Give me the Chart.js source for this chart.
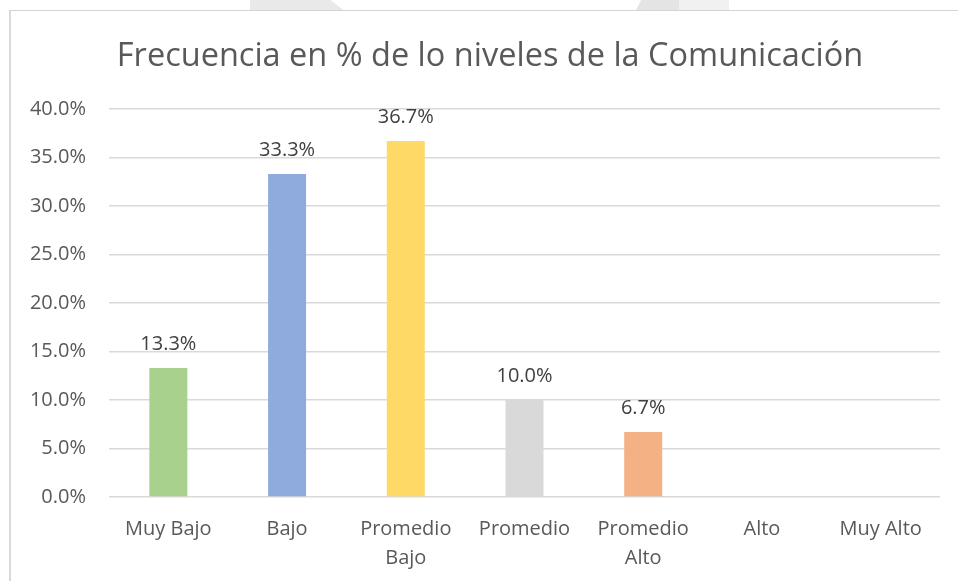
<!DOCTYPE html>
<html>
<head>
<meta charset="utf-8">
<script src="https://cdn.jsdelivr.net/npm/chart.js@4"></script>
<style>
  html, body { margin: 0; padding: 0; background: #fff; }
  body { width: 958px; height: 581px; position: relative; overflow: hidden; font-family: "Open Sans", sans-serif; }
  .wm { position: absolute; top: 0; height: 12px; }
  .wm1 { left: 250px; width: 96px; background: #e9e9e9; clip-path: polygon(0 0, 84% 0, 100% 100%, 0 100%); }
  .wm2 { left: 635px; width: 44px; background: #e4e4e4; clip-path: polygon(14% 0, 100% 0, 100% 100%, 0 100%); }
  .wm3 { left: 679px; width: 50px; background: #f1f1f1; }
  .frame { position: absolute; left: 9px; top: 10px; width: 1000px; height: 1000px;
           border-left: 2px solid #d9d9d9; border-top: 1px solid #d4d4d4; background: #fff; }
  canvas { position: absolute; left: 0; top: 0; }
</style>
</head>
<body>
<div class="wm wm1"></div>
<div class="wm wm2"></div>
<div class="wm wm3"></div>
<div class="frame"></div>
<canvas id="chart" width="958" height="581"></canvas>
<script>
const title = "Frecuencia en % de lo niveles de la Comunicación";
const categories = [["Muy Bajo"], ["Bajo"], ["Promedio", "Bajo"], ["Promedio"], ["Promedio", "Alto"], ["Alto"], ["Muy Alto"]];
const values = [13.3, 33.3, 36.7, 10.0, 6.7, 0, 0];
const colors = ["#A9D18E", "#8FAADC", "#FFD966", "#D9D9D9", "#F4B183", "#A9D18E", "#8FAADC"];

const pct = v => v.toFixed(1) + "%";

// value labels above the bars, skipped for the empty ones
const valueLabels = {
  id: "valueLabels",
  afterDatasetsDraw(chart) {
    const ctx = chart.ctx;
    const meta = chart.getDatasetMeta(0);
    ctx.save();
    ctx.font = "20px 'Open Sans'";
    ctx.fillStyle = "#404040";
    ctx.textAlign = "center";
    ctx.textBaseline = "alphabetic";
    meta.data.forEach((bar, i) => {
      if (!values[i]) return;
      ctx.fillText(pct(values[i]), bar.x, bar.y - 18);
    });
    ctx.restore();
  }
};

// the title sits a bit right of the canvas centre, like the original
const chartTitle = {
  id: "chartTitle",
  afterDraw(chart) {
    const ctx = chart.ctx;
    ctx.save();
    ctx.font = "32.5px 'Open Sans'";
    ctx.fillStyle = "#595959";
    ctx.textAlign = "center";
    ctx.textBaseline = "alphabetic";
    ctx.fillText(title, 490, 66);
    ctx.restore();
  }
};

new Chart(document.getElementById("chart"), {
  type: "bar",
  data: {
    labels: categories,
    datasets: [{
      data: values,
      backgroundColor: colors,
      barPercentage: 0.32,
      categoryPercentage: 1
    }]
  },
  options: {
    responsive: false,
    animation: false,
    layout: { padding: { left: 0, right: 18, top: 109, bottom: 0 } },
    plugins: {
      legend: { display: false },
      tooltip: { enabled: false },
      title: { display: false }
    },
    scales: {
      x: {
        grid: { display: false, drawTicks: false },
        border: { display: false },
        ticks: {
          color: "#595959",
          font: { family: "'Open Sans'", size: 20, lineHeight: 1.45 },
          padding: 18,
          maxRotation: 0,
          autoSkip: false
        },
        afterFit(scale) { scale.height = 84; }
      },
      y: {
        min: 0,
        max: 40,
        grid: { color: "#d9d9d9", lineWidth: 1.5, drawTicks: false },
        border: { display: false },
        ticks: {
          stepSize: 5,
          color: "#595959",
          font: { family: "'Open Sans'", size: 20 },
          padding: 23,
          callback: v => pct(v)
        },
        afterFit(scale) { scale.width = 109; }
      }
    }
  },
  plugins: [valueLabels, chartTitle]
});
</script>
</body>
</html>
